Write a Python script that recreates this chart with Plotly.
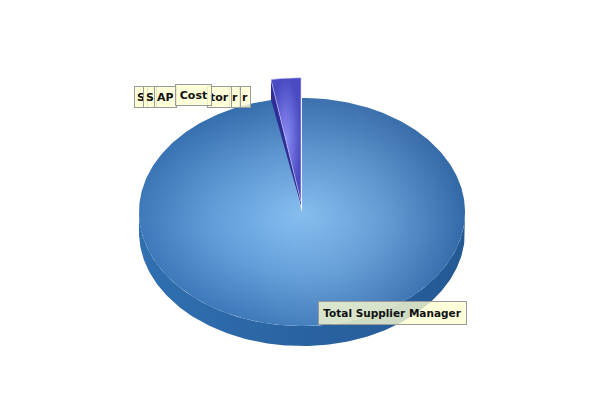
import numpy as np
import plotly.graph_objects as go

# ---- data ----
labels = ["Cost", "S", "S", "AP", "tor", "r", "r", "Total Supplier Manager"]
values = [2.7, 0.01, 0.01, 0.01, 0.01, 0.01, 0.01, 97.24]

# ---- geometry / style (layout) ----
CX, CY = 302, 212          # centre of the top face (pixels)
RX, RY = 163, 114          # radii of the top face ellipse
DEPTH = 20                 # thickness of the 3D pie
EXPLODE = (-1, -10)        # offset of exploded slice
EXPLODE_SCALE = 1.09
big_top_cs = [[0, "#84bef2"], [0.55, "#629ed9"], [1, "#3e7aba"]]
purple_top_cs = [[0, "#8c8cf6"], [1, "#4a4ac2"]]

total = sum(values)
fracs = [v / total for v in values]
starts = np.cumsum([0] + fracs[:-1])
ends = np.cumsum(fracs)


def pt(theta, cx, cy, rx, ry):
    # theta measured counter-clockwise from the top, in radians
    return cx - rx * np.sin(theta), cy - ry * np.cos(theta)


fig = go.Figure()

# side of the large slice (front half of the rim)
th = np.linspace(np.pi / 2, 3 * np.pi / 2, 200)
xt, yt = pt(th, CX, CY, RX, RY)
xs = np.concatenate([xt, xt[::-1]])
ys = np.concatenate([yt, yt[::-1] + DEPTH])
fig.add_trace(go.Scatter(x=xs, y=ys, fill="toself", mode="lines",
                         line=dict(width=0), fillcolor="#2c66a6",
                         fillgradient=dict(type="horizontal",
                                           colorscale=[[0, "#3070b0"], [0.5, "#2a63a2"], [1, "#245994"]]),
                         hoverinfo="skip"))

# top face of the large slice
big_i = len(values) - 1
a0, a1 = starts[big_i] * 2 * np.pi, ends[big_i] * 2 * np.pi
th = np.linspace(a0, a1, 400)
xa, ya = pt(th, CX, CY, RX, RY)
big_x = np.concatenate([[CX], xa, [CX]])
big_y = np.concatenate([[CY], ya, [CY]])
fig.add_trace(go.Scatter(x=big_x, y=big_y,
                         fill="toself", mode="lines", line=dict(width=0),
                         fillcolor="#5d9ad6",
                         fillgradient=dict(type="radial", colorscale=big_top_cs),
                         hoverinfo="skip"))
# shading overlay: darker towards the lower right
fig.add_trace(go.Scatter(x=big_x, y=big_y,
                         fill="toself", mode="lines", line=dict(width=0),
                         fillcolor="rgba(0,0,0,0)",
                         fillgradient=dict(type="horizontal",
                                           colorscale=[[0, "rgba(255,255,255,0.0)"], [0.35, "rgba(255,255,255,0.0)"],
                                                       [1, "rgba(15,50,110,0.22)"]]),
                         hoverinfo="skip"))
fig.add_trace(go.Scatter(x=big_x, y=big_y,
                         fill="toself", mode="lines", line=dict(width=0),
                         fillcolor="rgba(0,0,0,0)",
                         fillgradient=dict(type="vertical",
                                           colorscale=[[0, "rgba(15,50,110,0.0)"], [0.45, "rgba(15,50,110,0.0)"],
                                                       [1, "rgba(15,50,110,0.18)"]]),
                         hoverinfo="skip"))

# exploded slice (first value)
pcx, pcy = CX + EXPLODE[0], CY + EXPLODE[1]
prx, pry = RX * EXPLODE_SCALE, RY * EXPLODE_SCALE
b0, b1 = starts[0] * 2 * np.pi, ends[0] * 2 * np.pi
rx_, ry_ = pt(b1, pcx, pcy, prx, pry)
fig.add_trace(go.Scatter(x=[pcx, rx_, rx_, pcx, pcx],
                         y=[pcy, ry_, ry_ + DEPTH, pcy + DEPTH * 0.2, pcy],
                         fill="toself", mode="lines", line=dict(width=0),
                         fillcolor="#2e2e96", hoverinfo="skip"))
th = np.linspace(b0, b1, 60)
xa, ya = pt(th, pcx, pcy, prx, pry)
fig.add_trace(go.Scatter(x=np.concatenate([[pcx], xa, [pcx]]),
                         y=np.concatenate([[pcy], ya, [pcy]]),
                         fill="toself", mode="lines",
                         line=dict(width=0.6, color="#c8c8ff"),
                         fillcolor="#6a6ade",
                         fillgradient=dict(type="radial", colorscale=purple_top_cs),
                         hoverinfo="skip"))

# ---- labels ----
box_bg = "rgba(255,255,208,0.78)"
box_border = "#9a9a9a"
font = dict(family="DejaVu Sans", size=11, color="#111111")

# stacking (x, anchor, y) for small labels; drawn in this order
small_pos = {1: (134, "left", 97), 2: (143, "left", 97), 3: (154, "left", 97),
             6: (251, "right", 97), 5: (241, "right", 97), 4: (232, "right", 97),
             0: (175, "left", 95)}
annotations = []
for i, (x, anchor, y) in small_pos.items():
    annotations.append(dict(x=x, y=y, xref="x", yref="y", xanchor=anchor, yanchor="middle",
                            text="<b>%s</b>" % labels[i], showarrow=False, height=16,
                            bgcolor=box_bg, bordercolor=box_border, borderwidth=1,
                            borderpad=2, font=font))
# Cost box slightly wider, as in the reference
annotations[-1]["width"] = 31
annotations.append(dict(x=318, y=301, xref="x", yref="y", xanchor="left", yanchor="top",
                        text="<b>%s</b>" % labels[big_i], showarrow=False,
                        width=141, height=16,
                        bgcolor=box_bg, bordercolor=box_border, borderwidth=1,
                        borderpad=3, font=dict(family="DejaVu Sans", size=10.5, color="#111111")))

fig.update_layout(
    width=600, height=400, margin=dict(l=0, r=0, t=0, b=0),
    paper_bgcolor="white", plot_bgcolor="white", showlegend=False,
    xaxis=dict(range=[0, 600], visible=False, fixedrange=True),
    yaxis=dict(range=[400, 0], visible=False, fixedrange=True),
    annotations=annotations, hovermode=False,
)
fig.write_html("out.html", config={"displayModeBar": False})
